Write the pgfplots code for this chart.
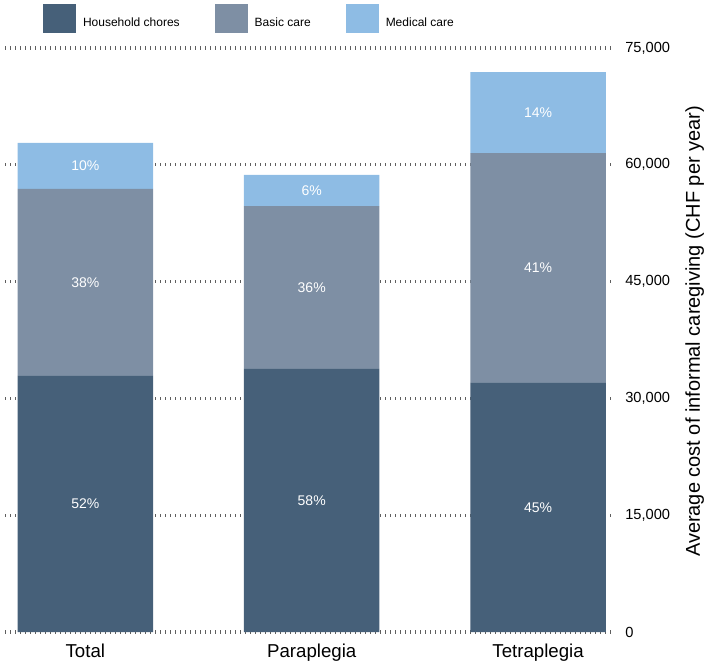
\documentclass[border=0pt]{standalone}
\usepackage{fontspec}
\setmainfont{Liberation Sans}
\usepackage{pgfplots}
\pgfplotsset{compat=1.18}
\definecolor{hh}{HTML}{466079}
\definecolor{bc}{HTML}{7E8FA4}
\definecolor{mc}{HTML}{8EBCE4}
\definecolor{gridc}{HTML}{5E5E5E}
\pgfplotsset{
  swatch legend/.style={legend image code/.code={\fill[##1] (0pt,-4.7pt) rectangle (24.75pt,17pt);}}
}
\begin{document}
\begin{tikzpicture}
\path[use as bounding box] (-3.75pt,-27pt) rectangle (528pt,474pt);
\begin{axis}[
  scale only axis, width=456pt, height=438pt,
  ybar stacked, bar width=101.6pt,
  xmin=-0.355, xmax=2.331, ymin=0, ymax=75000,
  xtick={0,1,2}, xticklabels={Total,Paraplegia,Tetraplegia},
  ytick={0,15000,30000,45000,60000,75000},
  scaled y ticks=false,
  yticklabel pos=right,
  yticklabel style={/pgf/number format/fixed, /pgf/number format/1000 sep={,}, /pgf/number format/assume math mode=true, anchor=west, inner sep=0pt, xshift=9pt, font=\fontsize{11}{13}\selectfont},
  axis line style={draw=none},
  major tick length=0pt,
  ymajorgrids,
  grid style={gridc, line width=2.5pt, dash pattern=on 0.75pt off 3pt},
  xticklabel style={anchor=north, inner sep=0pt, yshift=-9pt, font=\fontsize{14}{16}\selectfont},
  ylabel={Average cost of informal caregiving (CHF per year)},
  ylabel style={at={(rel axis cs:1.1184,0.5146)}, anchor=north, inner sep=0pt, font=\fontsize{15}{18}\selectfont},
  legend columns=3,
  swatch legend,
  legend style={at={(rel axis cs:0,1)}, anchor=north west, xshift=28.5pt, yshift=33pt,
    draw=none, fill=none, inner sep=0pt, outer sep=0pt,
    font=\fontsize{9}{11}\selectfont,
    nodes={anchor=base west, inner sep=0pt},
    /tikz/every odd column/.append style={column sep=5.25pt},
    /tikz/every even column/.append style={column sep=26.25pt}},
  nodes near coords, point meta=explicit symbolic,
  every node near coord/.style={anchor=center, text=white, inner sep=0pt, font=\fontsize{10.5}{12}\selectfont},
]
\addplot[fill=hh, draw=none] coordinates {(0,32900) [52\%] (1,33800) [58\%] (2,32000) [45\%]};
\addlegendentry{Household chores}
\addplot[fill=bc, draw=none] coordinates {(0,24000) [38\%] (1,20900) [36\%] (2,29500) [41\%]};
\addlegendentry{Basic care}
\addplot[fill=mc, draw=none] coordinates {(0,5900) [10\%] (1,4000) [6\%] (2,10400) [14\%]};
\addlegendentry{Medical care}
\end{axis}
\end{tikzpicture}
\end{document}
